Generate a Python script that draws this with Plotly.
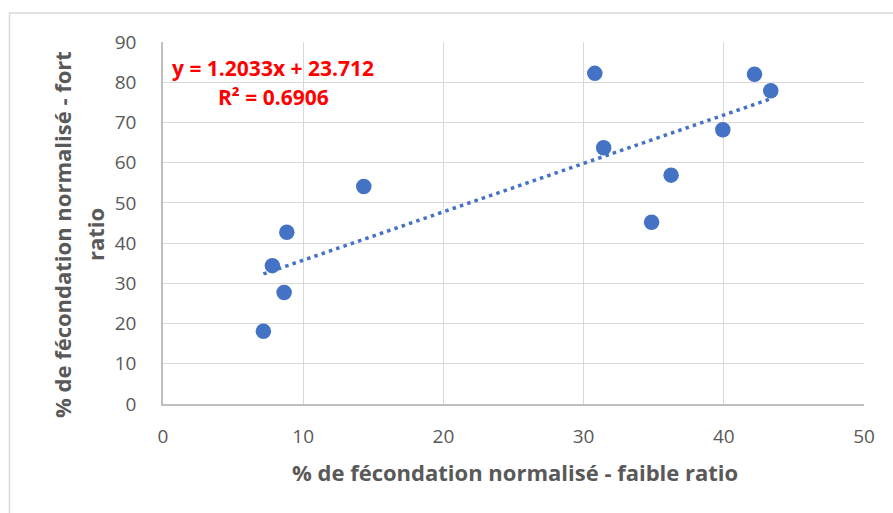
import plotly.graph_objects as go

# Normalised fertilisation rates (%): low ratio (x) vs high ratio (y)
faible_ratio = [7.16, 8.64, 7.80, 8.83, 14.32, 30.80, 31.43, 34.85, 36.24, 39.93, 42.19, 43.35]
fort_ratio = [18.1, 27.7, 34.4, 42.7, 54.1, 82.2, 63.7, 45.2, 56.9, 68.2, 82.0, 77.9]

# Linear trendline coefficients and fit quality
slope = 1.2033
intercept = 23.712
r_squared = 0.6906

x_ticks = [0, 10, 20, 30, 40, 50]
y_ticks = [0, 10, 20, 30, 40, 50, 60, 70, 80, 90]

BLUE = "#4472C4"
GREY_TEXT = "#595959"
GRID = "#D9D9D9"
FONT = "Open Sans"

W, H = 893, 513
ml, mr, mt, mb = 163, 29, 42, 109
pw, ph = W - ml - mr, H - mt - mb


def px_to_paper_x(px):
    return (px - ml) / pw


def px_to_paper_y(py):
    return (H - mb - py) / ph


x_min, x_max = min(faible_ratio), max(faible_ratio)
trend_x = [x_min, x_max]
trend_y = [slope * v + intercept for v in trend_x]

fig = go.Figure()

fig.add_trace(go.Scatter(
    x=faible_ratio, y=fort_ratio, mode="markers",
    marker=dict(size=15.5, color=BLUE, line=dict(width=0)),
    showlegend=False, hoverinfo="x+y",
))

fig.add_trace(go.Scatter(
    x=trend_x, y=trend_y, mode="lines",
    line=dict(color=BLUE, width=3.5, dash="3.5px,4.2px"),
    showlegend=False, hoverinfo="skip",
))

axis_common = dict(
    showgrid=True, gridcolor=GRID, gridwidth=1,
    zeroline=False, showline=True, linecolor="#BFBFBF", linewidth=1.5,
    ticks="", tickfont=dict(family=FONT, size=19, color=GREY_TEXT),
    mirror=False,
)

fig.update_xaxes(range=[0, 50], tickvals=x_ticks, ticklabelstandoff=14, **axis_common)
fig.update_yaxes(range=[0, 90], tickvals=y_ticks, ticklabelstandoff=21, **axis_common)

eq_font = dict(family=FONT, size=21, color="#FF0000", weight="bold")
title_font = dict(family=FONT, size=22, color=GREY_TEXT, weight="bold")

annotations = [
    # trendline equation
    dict(text=f"y = {slope}x + {intercept}", x=px_to_paper_x(273), y=px_to_paper_y(68),
         xref="paper", yref="paper", showarrow=False, xanchor="center", yanchor="middle",
         font=eq_font),
    dict(text=f"R² = {r_squared}", x=px_to_paper_x(273), y=px_to_paper_y(97),
         xref="paper", yref="paper", showarrow=False, xanchor="center", yanchor="middle",
         font=eq_font),
    # x-axis title
    dict(text="% de fécondation normalisé - faible ratio", x=px_to_paper_x(515), y=px_to_paper_y(472),
         xref="paper", yref="paper", showarrow=False, xanchor="center", yanchor="middle",
         font=title_font),
    # y-axis title, two lines
    dict(text="% de fécondation normalisé - fort", x=px_to_paper_x(62), y=px_to_paper_y(235),
         xref="paper", yref="paper", showarrow=False, xanchor="center", yanchor="middle",
         textangle=-90, font=title_font),
    dict(text="ratio", x=px_to_paper_x(95), y=px_to_paper_y(235),
         xref="paper", yref="paper", showarrow=False, xanchor="center", yanchor="middle",
         textangle=-90, font=title_font),
]

# Chart-area frame
shapes = [
    dict(type="rect", xref="paper", yref="paper",
         x0=px_to_paper_x(9.5), x1=px_to_paper_x(905),
         y0=px_to_paper_y(525), y1=px_to_paper_y(13),
         line=dict(color=GRID, width=1.5), layer="below"),
]

fig.update_layout(
    width=W, height=H,
    margin=dict(l=ml, r=mr, t=mt, b=mb),
    paper_bgcolor="white", plot_bgcolor="white",
    annotations=annotations, shapes=shapes,
    font=dict(family=FONT, color=GREY_TEXT),
)

fig.write_html("out.html")
